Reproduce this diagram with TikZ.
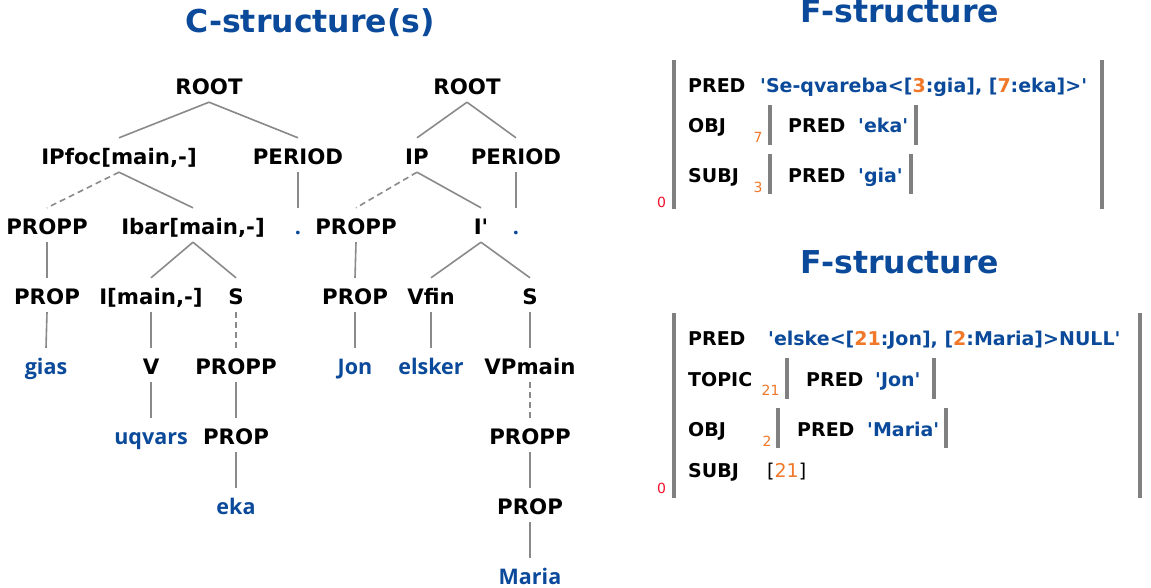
\documentclass[tikz,border=0pt]{standalone}
\usepackage{fontspec}
\newfontfamily\dv{DejaVu Sans}
\newfontfamily\os{Open Sans}
\usetikzlibrary{calc}
\definecolor{lfgblue}{HTML}{0B4A9A}
\definecolor{lfgorange}{HTML}{F07828}
\definecolor{lfgred}{HTML}{F0102A}
\definecolor{edgegray}{HTML}{8A8A8A}
\definecolor{bargray}{HTML}{808080}
\begin{document}
\begin{tikzpicture}[x=1pt,y=-1pt,
  cat/.style={font=\dv\bfseries\fontsize{21.3}{24}\selectfont, text height=22pt, text depth=4pt, inner xsep=0pt, inner ysep=4pt, anchor=base},
  word/.style={cat, font=\os\bfseries\fontsize{21.5}{24}\selectfont, text=lfgblue},
  edge/.style={draw=edgegray, line width=1.6pt},
  dedge/.style={edge, dash pattern=on 6pt off 4pt},
  title/.style={font=\dv\bfseries\fontsize{31.5}{36}\selectfont, text=lfgblue, inner sep=0pt, anchor=base},
  feat/.style={font=\dv\bfseries\fontsize{19}{22}\selectfont, inner sep=0pt, anchor=base west},
  val/.style={feat, text=lfgblue},
  idx/.style={font=\dv\fontsize{14}{16}\selectfont, text=lfgorange, inner sep=0pt, anchor=base},
  root/.style={idx, text=lfgred},
  bar/.style={draw=bargray, line width=4pt}]
\useasboundingbox (0,0) rectangle (1151,587);
\fill[white] (0,0) rectangle (1151,587);

% titles
\node[title] (ctitle) at (310,32) {C-structure(s)};
\node[title] (ftitle1) at (900,22.5) {F-structure};
\node[title] (ftitle2) at (900,273) {F-structure};

% left tree
\node[cat] (root1) at (209,94) {ROOT};
\node[cat] (ipfoc) at (119,164) {IPfoc[main,-]};
\node[cat] (period1) at (298,164) {PERIOD};
\node[cat] (propp1) at (47,234) {PROPP};
\node[cat] (ibar) at (193,234) {Ibar[main,-]};
\node[word] (dot1) at (298,234) {.};
\node[cat] (prop1) at (47,304) {PROP};
\node[cat] (imain) at (151,304) {I[main,-]};
\node[cat] (s1) at (236,304) {S};
\node[word] (gias) at (46,374) {gias};
\node[cat] (v) at (151,374) {V};
\node[cat] (propp2) at (236,374) {PROPP};
\node[word] (uqvars) at (151,444) {uqvars};
\node[cat] (prop2) at (236,444) {PROP};
\node[word] (eka) at (236,514) {eka};

\draw[edge] (root1.south) -- (ipfoc.north);
\draw[edge] (root1.south) -- (period1.north);
\draw[dedge] (ipfoc.south) -- (propp1.north);
\draw[edge] (ipfoc.south) -- (ibar.north);
\draw[edge] (period1.south) -- (dot1.north);
\draw[edge] (propp1.south) -- (prop1.north);
\draw[edge] (ibar.south) -- (imain.north);
\draw[edge] (ibar.south) -- (s1.north);
\draw[edge] (prop1.south) -- (gias.north);
\draw[edge] (imain.south) -- (v.north);
\draw[dedge] (s1.south) -- (propp2.north);
\draw[edge] (v.south) -- (uqvars.north);
\draw[edge] (propp2.south) -- (prop2.north);
\draw[edge] (prop2.south) -- (eka.north);

% right tree
\node[cat] (root2) at (467,94) {ROOT};
\node[cat] (ip) at (417,164) {IP};
\node[cat] (period2) at (516,164) {PERIOD};
\node[cat] (propp3) at (356,234) {PROPP};
\node[cat] (ibar2) at (481,234) {I'};
\node[word] (dot2) at (516,234) {.};
\node[cat] (prop3) at (355,304) {PROP};
\node[cat] (vfin) at (431,304) {Vfin};
\node[cat] (s2) at (530,304) {S};
\node[word] (jon) at (355,374) {Jon};
\node[word] (elsker) at (431,374) {elsker};
\node[cat] (vpmain) at (530,374) {VPmain};
\node[cat] (propp4) at (530,444) {PROPP};
\node[cat] (prop4) at (530,514) {PROP};
\node[word] (maria) at (530,584) {Maria};

\draw[edge] (root2.south) -- (ip.north);
\draw[edge] (root2.south) -- (period2.north);
\draw[dedge] (ip.south) -- (propp3.north);
\draw[edge] (ip.south) -- (ibar2.north);
\draw[edge] (period2.south) -- (dot2.north);
\draw[edge] (propp3.south) -- (prop3.north);
\draw[edge] (ibar2.south) -- (vfin.north);
\draw[edge] (ibar2.south) -- (s2.north);
\draw[edge] (prop3.south) -- (jon.north);
\draw[edge] (vfin.south) -- (elsker.north);
\draw[edge] (s2.south) -- (vpmain.north);
\draw[dedge] (vpmain.south) -- (propp4.north);
\draw[edge] (propp4.south) -- (prop4.north);
\draw[edge] (prop4.south) -- (maria.north);

% F-structure 1
\draw[bar] (674,60) -- (674,209);
\draw[bar] (1102,60) -- (1102,209);
\node[feat] (f1pred) at (688,92) {PRED};
\node[val] (f1val) at (760,92) {'Se-qvareba<[{\color{lfgorange}3}:gia], [{\color{lfgorange}7}:eka]>'};
\node[feat] (f1obj) at (688,132) {OBJ};
\node[idx] (f1i7) at (758,142) {7};
\draw[bar] (770,105) -- (770,145);
\draw[bar] (916,105) -- (916,145);
\node[feat] (f1objpred) at (788,132) {PRED};
\node[val] (f1objval) at (858,132) {'eka'};
\node[feat] (f1subj) at (688,182) {SUBJ};
\node[idx] (f1i3) at (758,192) {3};
\draw[bar] (770,154) -- (770,194);
\draw[bar] (911,154) -- (911,194);
\node[feat] (f1subjpred) at (788,182) {PRED};
\node[val] (f1subjval) at (858,182) {'gia'};
\node[root] (f1zero) at (661.5,207) {0};

% F-structure 2
\draw[bar] (674,313) -- (674,498);
\draw[bar] (1140,313) -- (1140,498);
\node[feat] (f2pred) at (688,345) {PRED};
\node[val] (f2val) at (768,345) {'elske<[{\color{lfgorange}21}:Jon], [{\color{lfgorange}2}:Maria]>NULL'};
\node[feat] (f2topic) at (688,386) {TOPIC};
\node[idx] (f2i21) at (770.5,395) {21};
\draw[bar] (787,358) -- (787,399);
\draw[bar] (934,358) -- (934,399);
\node[feat] (f2topicpred) at (806,386) {PRED};
\node[val] (f2topicval) at (875,386) {'Jon'};
\node[feat] (f2obj) at (688,436) {OBJ};
\node[idx] (f2i2) at (767,446) {2};
\draw[bar] (778,408) -- (778,448);
\draw[bar] (946,408) -- (946,448);
\node[feat] (f2objpred) at (797,436) {PRED};
\node[val] (f2objval) at (867,436) {'Maria'};
\node[feat] (f2subj) at (688,477) {SUBJ};
\node[feat, font=\dv\fontsize{19}{22}\selectfont] (f2subjval) at (767,477) {[{\color{lfgorange}21}]};
\node[root] (f2zero) at (661.5,493) {0};
\end{tikzpicture}
\end{document}
